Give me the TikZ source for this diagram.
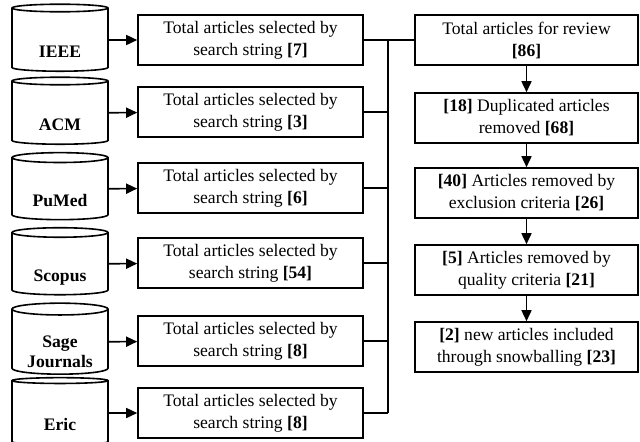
\documentclass[tikz,border=0pt]{standalone}
\usepackage{fontspec}
\setmainfont{LiberationSerif}[Extension=.ttf, UprightFont=*-Regular, BoldFont=*-Bold,
    ItalicFont=*-Italic, BoldItalicFont=*-BoldItalic]
\usetikzlibrary{shapes.geometric,arrows.meta}

\begin{document}
\begin{tikzpicture}[x=0.5pt,y=-0.5pt,
    db/.style={cylinder, shape border rotate=90, aspect=0.18, draw, line width=0.8pt,
        minimum width=48pt, minimum height=33.5pt, inner sep=0pt,
        text height=17.5pt, text depth=0pt,
        font=\rmfamily\fontsize{8.8}{10}\selectfont\bfseries, align=center},
    box/.style={draw, line width=0.8pt, minimum width=112.5pt, minimum height=25pt,
        inner sep=0pt, font=\rmfamily\fontsize{8.8}{11}\selectfont, align=center},
    rbox/.style={box, minimum width=111.5pt},
    arr/.style={line width=0.8pt, -{Triangle[length=5.5pt,width=5pt]}},
    link/.style={line width=0.8pt}]
    \useasboundingbox (0,0) rectangle (640,441);

    % databases
    \node[db] (ieee) at (60,40) {IEEE};
    \node[db] (acm) at (60,113) {ACM};
    \node[db] (pumed) at (60,189) {PuMed};
    \node[db] (scopus) at (60,264) {Scopus};
    \node[db, minimum height=35.5pt, text height=25pt] (sage) at (60,342) {Sage\\Journals};
    \node[db] (eric) at (60,413) {Eric};

    % selected by search string
    \node[box] (ieeebox) at (250.5,40) {Total articles selected by\\search string \textbf{[7]}};
    \node[box] (acmbox) at (250.5,112) {Total articles selected by\\search string \textbf{[3]}};
    \node[box] (pumedbox) at (250.5,188) {Total articles selected by\\search string \textbf{[6]}};
    \node[box] (scopusbox) at (250.5,263) {Total articles selected by\\search string \textbf{[54]}};
    \node[box] (sagebox) at (250.5,341) {Total articles selected by\\search string \textbf{[8]}};
    \node[box] (ericbox) at (250.5,413) {Total articles selected by\\search string \textbf{[8]}};

    \draw[arr] (ieee) -- (ieeebox);
    \draw[arr] (acm) -- (acmbox);
    \draw[arr] (pumed) -- (pumedbox);
    \draw[arr] (scopus) -- (scopusbox);
    \draw[arr] (sage) -- (sagebox);
    \draw[arr] (eric) -- (ericbox);

    % review steps
    \node[rbox] (review) at (526.5,40) {Total articles for review\\\textbf{[86]}};
    \node[rbox] (dup) at (526.5,118) {\textbf{[18]} Duplicated articles\\removed \textbf{[68]}};
    \node[rbox] (excl) at (526.5,193) {\textbf{[40]} Articles removed by\\exclusion criteria \textbf{[26]}};
    \node[rbox] (qual) at (526.5,270) {\textbf{[5]} Articles removed by\\quality criteria \textbf{[21]}};
    \node[rbox] (snow) at (526.5,347) {\textbf{[2]} new articles included\\through snowballing \textbf{[23]}};

    \draw[arr] (review) -- (dup);
    \draw[arr] (dup) -- (excl);
    \draw[arr] (excl) -- (qual);
    \draw[arr] (qual) -- (snow);

    % collecting line
    \coordinate (top) at (388,40);
    \coordinate (bot) at (388,413);
    \draw[link] (ieeebox.east) -- (review.west);
    \draw[link] (top) -- (bot);
    \draw[link] (acmbox.east) -- (acmbox.east -| top);
    \draw[link] (pumedbox.east) -- (pumedbox.east -| top);
    \draw[link] (scopusbox.east) -- (scopusbox.east -| top);
    \draw[link] (sagebox.east) -- (sagebox.east -| top);
    \draw[link] (ericbox.east) -- (bot);
\end{tikzpicture}
\end{document}
